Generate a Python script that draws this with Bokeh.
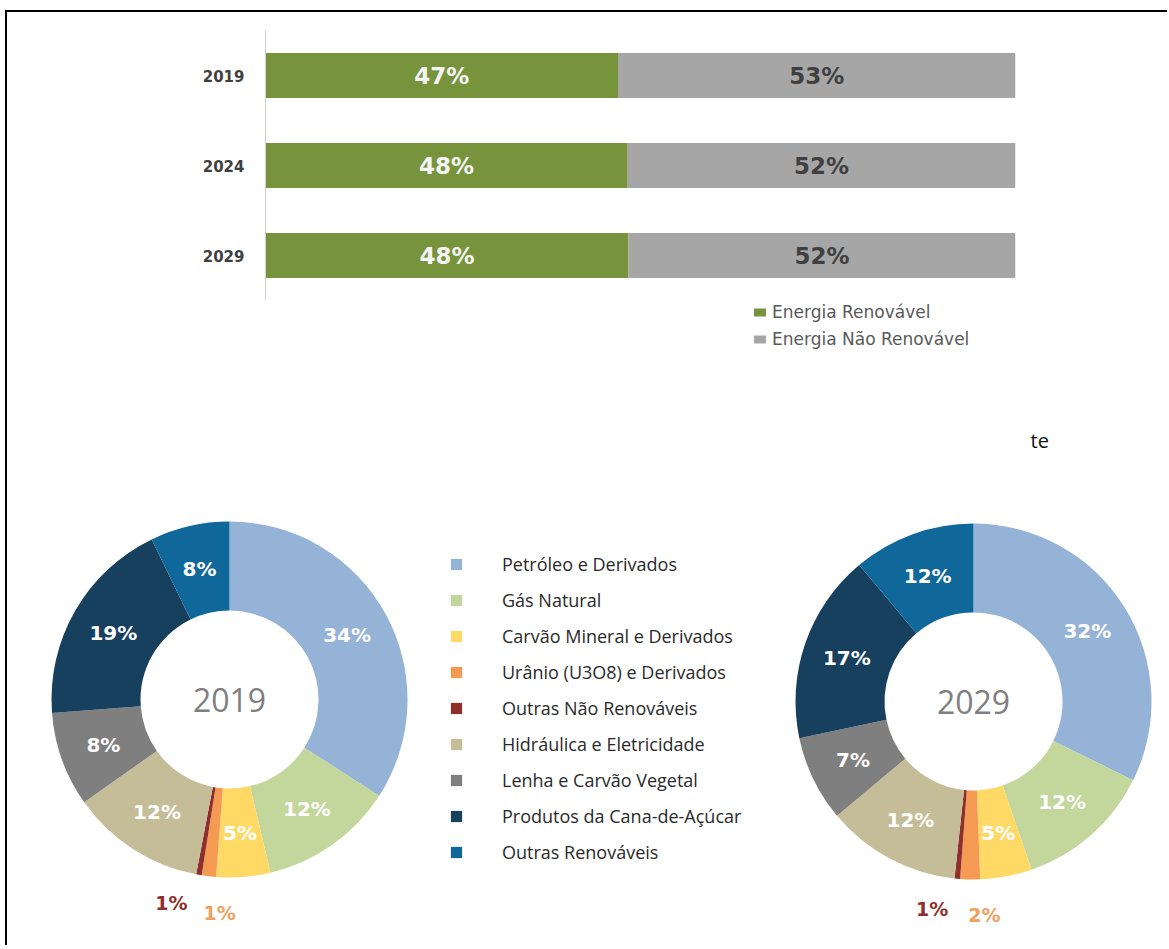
import math
from bokeh.plotting import figure
from bokeh.models import ColumnDataSource, FactorRange, Range1d, Legend, LegendItem
from bokeh.layouts import column
from bokeh.embed import file_html
from bokeh.resources import INLINE
from bokeh.core.properties import value

# ---------------- data ----------------
years = ["2019", "2024", "2029"]
renovavel = [47.0, 48.3, 48.4]
nao_renovavel = [53.0, 51.7, 51.6]
bar_series = ["Energia Renovável", "Energia Não Renovável"]

fontes = [
    "Petróleo e Derivados",
    "Gás Natural",
    "Carvão Mineral e Derivados",
    "Urânio (U3O8) e Derivados",
    "Outras Não Renováveis",
    "Hidráulica e Eletricidade",
    "Lenha e Carvão Vegetal",
    "Produtos da Cana-de-Açúcar",
    "Outras Renováveis",
]
matriz_2019 = [34.1, 12.2, 4.9, 1.3, 0.5, 12.2, 8.6, 19.0, 7.2]
matriz_2029 = [32.3, 12.4, 4.7, 1.8, 0.5, 12.2, 7.8, 17.2, 11.1]
rotulos_2019 = ["34%", "12%", "5%", "1%", "1%", "12%", "8%", "19%", "8%"]
rotulos_2029 = ["32%", "12%", "5%", "2%", "1%", "12%", "7%", "17%", "12%"]

# ---------------- styles ----------------
GREEN = "#77933C"
GRAY = "#A6A6A6"
colors = ["#95B3D7", "#C3D69B", "#FFD966", "#F59A52", "#8E2F2C",
          "#C4BD97", "#7F7F7F", "#17405E", "#10679A"]
outside_colors = {3: "#F0A060", 4: "#8E2F2C"}
W = 1160

# ---------------- bar chart ----------------
bar = figure(width=W, height=288, x_range=Range1d(0, 100),
             y_range=FactorRange(*years[::-1]),
             output_backend="svg", toolbar_location=None, x_axis_location=None,
             title=None,
             min_border_left=258, min_border_right=152,
             min_border_top=18, min_border_bottom=0)
bar.background_fill_color = "white"
bar.border_fill_color = "white"
bar.outline_line_color = None
bar.grid.visible = False

ren_end = list(renovavel)
tot_end = [a + b for a, b in zip(renovavel, nao_renovavel)]
src = ColumnDataSource(dict(
    year=years, zero=[0] * len(years), ren=ren_end, tot=tot_end,
    ren_mid=[v / 2 for v in ren_end],
    nren_mid=[(a + b) / 2 for a, b in zip(ren_end, tot_end)],
    ren_lab=[f"{round(v)}%" for v in renovavel],
    nren_lab=[f"{round(v)}%" for v in nao_renovavel],
))
bar.hbar(y="year", left="zero", right="ren", height=0.5, source=src,
         fill_color=GREEN, line_color=None)
bar.hbar(y="year", left="ren", right="tot", height=0.5, source=src,
         fill_color=GRAY, line_color=None)
bar.text(x="ren_mid", y="year", text="ren_lab", source=src,
         text_align="center", text_baseline="middle",
         text_font=value("DejaVu Sans"), text_font_style="bold",
         text_font_size="23px", text_color="#F4F4F4")
bar.text(x="nren_mid", y="year", text="nren_lab", source=src,
         text_align="center", text_baseline="middle",
         text_font=value("DejaVu Sans"), text_font_style="bold",
         text_font_size="23px", text_color="#404040")

bar.yaxis.axis_line_color = "#CFCFCF"
bar.yaxis.major_tick_line_color = None
bar.yaxis.major_tick_out = 0
bar.yaxis.major_tick_in = 0
bar.yaxis.minor_tick_line_color = None
bar.yaxis.major_label_standoff = 21
bar.yaxis.major_label_text_font = "DejaVu Sans"
bar.yaxis.major_label_text_font_style = "bold"
bar.yaxis.major_label_text_font_size = "15px"
bar.yaxis.major_label_text_color = "#404040"

# ---------------- lower part: bar legend + donuts ----------------
TOP_B = 300
H_B = 645
dn = figure(width=W, height=H_B, x_range=Range1d(7, 7 + W), y_range=Range1d(-(TOP_B + H_B), -TOP_B),
            output_backend="svg", toolbar_location=None,
            x_axis_type=None, y_axis_type=None, title=None,
            min_border_left=0, min_border_right=0, min_border_top=0, min_border_bottom=0)
dn.background_fill_color = "white"
dn.border_fill_color = "white"
dn.outline_line_color = None
dn.grid.visible = False

# legend-only (hidden) renderers carrying the two bar colours
lr1 = dn.quad(left=[0], right=[0], bottom=[0], top=[0], fill_color=GREEN, line_color=None, visible=False)
lr2 = dn.quad(left=[0], right=[0], bottom=[0], top=[0], fill_color=GRAY, line_color=None, visible=False)
leg1 = Legend(items=[LegendItem(label=bar_series[0], renderers=[lr1]),
                     LegendItem(label=bar_series[1], renderers=[lr2])],
              location=(745, 596), orientation="vertical",
              glyph_width=15, glyph_height=10, label_standoff=5,
              spacing=7, label_height=20, padding=0, margin=0,
              border_line_color=None, background_fill_alpha=0,
              inactive_fill_alpha=0,
              label_text_font="DejaVu Sans", label_text_font_size="17px",
              label_text_color="#595959")
dn.add_layout(leg1)

centers = {"2019": (229, -699), "2029": (973, -701)}
R_IN, R_OUT = 89, 178
R_MID = 134

wedge_renderers = {}
for yr, vals, labs in [("2019", matriz_2019, rotulos_2019), ("2029", matriz_2029, rotulos_2029)]:
    cx, cy = centers[yr]
    total = sum(vals)
    cum = 0.0
    starts, ends, mids = [], [], []
    for v in vals:
        a0 = cum / total
        cum += v
        a1 = cum / total
        starts.append(math.pi / 2 - 2 * math.pi * a0)
        ends.append(math.pi / 2 - 2 * math.pi * a1)
        mids.append(360.0 * (a0 + a1) / 2)  # clockwise from 12 o'clock, degrees
    ws = ColumnDataSource(dict(x=[cx] * len(vals), y=[cy] * len(vals),
                               start=starts, end=ends, color=colors, fonte=fontes))
    wr = dn.annular_wedge(x="x", y="y", inner_radius=R_IN, outer_radius=R_OUT,
                          start_angle="start", end_angle="end", direction="clock",
                          fill_color="color", line_color=None, source=ws)
    wedge_renderers[yr] = wr

    in_x, in_y, in_t = [], [], []
    out_x, out_y, out_t, out_c = [], [], [], []
    for i, (m, t) in enumerate(zip(mids, labs)):
        if i in outside_colors:
            ang = m + (6 if i == 4 else -4)
            r = 212 if i == 4 else 214
            out_x.append(cx + r * math.sin(math.radians(ang)))
            out_y.append(cy + r * math.cos(math.radians(ang)))
            out_t.append(t)
            out_c.append(outside_colors[i])
        else:
            in_x.append(cx + R_MID * math.sin(math.radians(m)))
            in_y.append(cy + R_MID * math.cos(math.radians(m)))
            in_t.append(t)
    dn.text(x=in_x, y=in_y, text=in_t, text_align="center", text_baseline="middle",
            text_font=value("DejaVu Sans"), text_font_style="bold",
            text_font_size="20px", text_color="#FFFFFF")
    dn.text(x=out_x, y=out_y, text=out_t, text_color=out_c,
            text_align="center", text_baseline="middle",
            text_font=value("DejaVu Sans"), text_font_style="bold",
            text_font_size="19px")
    dn.text(x=[cx], y=[cy], text=[yr], text_align="center", text_baseline="middle",
            text_font=value("Open Sans"), text_font_size="32px", text_color="#7F7F7F")

leg2 = Legend(items=[LegendItem(label=f, renderers=[wedge_renderers["2019"]], index=i)
                     for i, f in enumerate(fontes)],
              location=(442, 81), orientation="vertical",
              glyph_width=14, glyph_height=14, label_standoff=39,
              spacing=12, label_height=24, padding=0, margin=0,
              border_line_color=None, background_fill_alpha=0,
              label_text_font="Open Sans", label_text_font_size="18px",
              label_text_color="#2A2A2A")
dn.add_layout(leg2)

dn.text(x=[1030], y=[-440], text=["te"], text_align="left", text_baseline="alphabetic",
        text_font=value("Open Sans"), text_font_size="20px", text_color="#111111")

colA = column(bar, styles={"margin-left": "5px", "margin-top": "10px",
                           "border-top": "2px solid #000", "border-left": "2px solid #000"})
colB = column(dn, styles={"margin-left": "5px", "border-left": "2px solid #000"})

open("out.html", "w").write(file_html([colA, colB], INLINE))
